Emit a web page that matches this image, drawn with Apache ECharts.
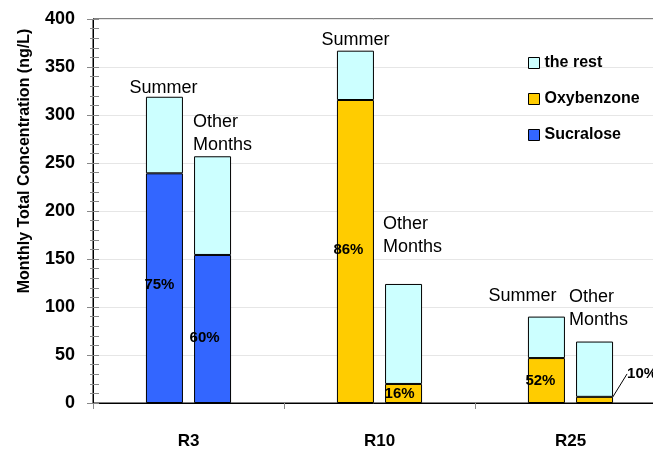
<!DOCTYPE html>
<html>
<head>
<meta charset="utf-8">
<script src="https://cdn.jsdelivr.net/npm/echarts@6/dist/echarts.min.js"></script>
<style>
  html, body { margin: 0; padding: 0; background: #fff; }
  #chart { width: 653px; height: 449px; }
</style>
</head>
<body>
<div id="chart"></div>
<script>
// Sites and the compound that dominates each site
const categories = ['R3', 'R10', 'R25'];
const compounds = ['Sucralose', 'Oxybenzone'];
const mainCompound = ['Sucralose', 'Oxybenzone', 'Oxybenzone'];

// Monthly total concentration (ng/L) per season
const summerTotal = [319, 367, 90];
const otherTotal = [257, 124, 64];

// Share (%) of the main compound in the total
const summerShare = [75, 86, 52];
const otherShare = [60, 16, 10];

// Value axis
const yMin = 0;
const yMax = 400;
const yStep = 50;

const FONT = "'Liberation Sans', Arial, Helvetica, sans-serif";
const colors = { 'Sucralose': '#3366FF', 'Oxybenzone': '#FFCC00', 'the rest': '#CCFFFF' };
const barBorder = { borderColor: '#000', borderWidth: 1 };

// Label nudges (px)
const summerTagOffset = [[-1, 3], [0, 1], [-24, -9]];
const otherTagOffset = [[-1, 0], [-2, -25], [-7, -10]];
const summerPctShift = [[-5, -3], [-7, -2], [-6, 0]];
const otherPctShift = [[-8, 9], [-4, 0], [9, -26]];

function part(total, share, i) {
  return total[i] * share[i] / 100;
}

const pctLabel = {
  position: 'inside',
  color: '#000',
  fontFamily: FONT,
  fontWeight: 'bold',
  fontSize: 15,
  textBorderWidth: 0
};

function compoundSeries(season, total, share, pctShift) {
  // very small segments carry their label outside, with a leader line
  const tiny = (i) => share[i] < 12;
  return compounds.map(c => ({
    name: c,
    type: 'bar',
    stack: season,
    barWidth: 37,
    barGap: '30%',
    itemStyle: Object.assign({ color: colors[c] }, barBorder),
    label: Object.assign({ show: true, formatter: p => share[p.dataIndex] + '%' }, pctLabel),
    labelLine: { show: false, lineStyle: { color: '#000', width: 1 } },
    labelLayout: p => ({ dx: pctShift[p.dataIndex][0], dy: pctShift[p.dataIndex][1] }),
    data: categories.map((_, i) => {
      if (mainCompound[i] !== c) return '-';
      if (tiny(i)) {
        return {
          value: part(total, share, i),
          label: { position: 'right', distance: 5 },
          labelLine: { show: true }
        };
      }
      return part(total, share, i);
    })
  }));
}

const tagText = {
  show: true,
  color: '#000',
  fontFamily: FONT,
  fontSize: 18,
  lineHeight: 23,
  textBorderWidth: 0
};

function restSeries(season, total, share, tag, tagOffset, labelPos, align) {
  return {
    name: 'the rest',
    type: 'bar',
    stack: season,
    barWidth: 37,
    barGap: '30%',
    itemStyle: Object.assign({ color: colors['the rest'] }, barBorder),
    label: Object.assign({
      formatter: tag,
      position: labelPos,
      align: align,
      verticalAlign: 'bottom'
    }, tagText),
    data: categories.map((_, i) => ({
      value: total[i] - part(total, share, i),
      label: { offset: tagOffset[i] }
    }))
  };
}

const series = [].concat(
  compoundSeries('summer', summerTotal, summerShare, summerPctShift),
  [restSeries('summer', summerTotal, summerShare, 'Summer', summerTagOffset, ['50%', 0], 'center')],
  compoundSeries('other', otherTotal, otherShare, otherPctShift),
  [restSeries('other', otherTotal, otherShare, 'Other\nMonths', otherTagOffset, [0, 0], 'left')]
);

const chart = echarts.init(document.getElementById('chart'), null, { renderer: 'canvas' });

chart.setOption({
  animation: false,
  backgroundColor: '#fff',
  textStyle: { fontFamily: FONT },
  grid: {
    left: 93,
    top: 19,
    width: 573,
    height: 384,
    outerBoundsMode: 'none',
    containLabel: false,
    show: true,
    borderColor: '#000',
    borderWidth: 1,
    backgroundColor: 'transparent'
  },
  legend: {
    orient: 'vertical',
    left: 523,
    top: 50,
    itemWidth: 11,
    itemHeight: 11,
    itemGap: 20,
    icon: 'rect',
    itemStyle: { borderColor: '#000', borderWidth: 1 },
    textStyle: { color: '#000', fontFamily: FONT, fontWeight: 'bold', fontSize: 16, lineHeight: 16 },
    data: ['the rest', 'Oxybenzone', 'Sucralose']
  },
  xAxis: {
    type: 'category',
    data: categories,
    axisLine: { lineStyle: { color: '#000', width: 1 } },
    axisTick: { show: true, length: 6, lineStyle: { color: '#888' } },
    axisLabel: { color: '#000', fontFamily: FONT, fontWeight: 'bold', fontSize: 17, margin: 30 },
    splitLine: { show: false }
  },
  yAxis: [
    {
      type: 'value',
      min: yMin,
      max: yMax,
      interval: yStep,
      position: 'left',
      name: 'Monthly Total Concentration (ng/L)',
      nameLocation: 'middle',
      nameGap: 60,
      nameTextStyle: {
        color: '#000', fontFamily: FONT, fontWeight: 'bold', fontSize: 16,
        padding: [0, 0, 0, 100]
      },
      axisLine: { show: true, lineStyle: { color: '#000', width: 1 } },
      axisTick: { show: true, length: 6, lineStyle: { color: '#888' } },
      minorTick: { show: true, splitNumber: 5, length: 3, lineStyle: { color: '#888' } },
      axisLabel: { color: '#000', fontFamily: FONT, fontWeight: 'bold', fontSize: 18, margin: 18 },
      splitLine: { show: true, lineStyle: { color: '#e6e6e6', width: 1 } },
      minorSplitLine: { show: false }
    },
    {
      type: 'value',
      min: yMin,
      max: yMax,
      interval: yStep,
      position: 'left',
      offset: 0,
      axisLine: { show: false },
      axisTick: { show: true, inside: true, length: 6, lineStyle: { color: '#888' } },
      minorTick: { show: true, splitNumber: 5, length: 6, lineStyle: { color: '#888' } },
      axisLabel: { show: false },
      splitLine: { show: false }
    }
  ],
  series: series
});
</script>
</body>
</html>
